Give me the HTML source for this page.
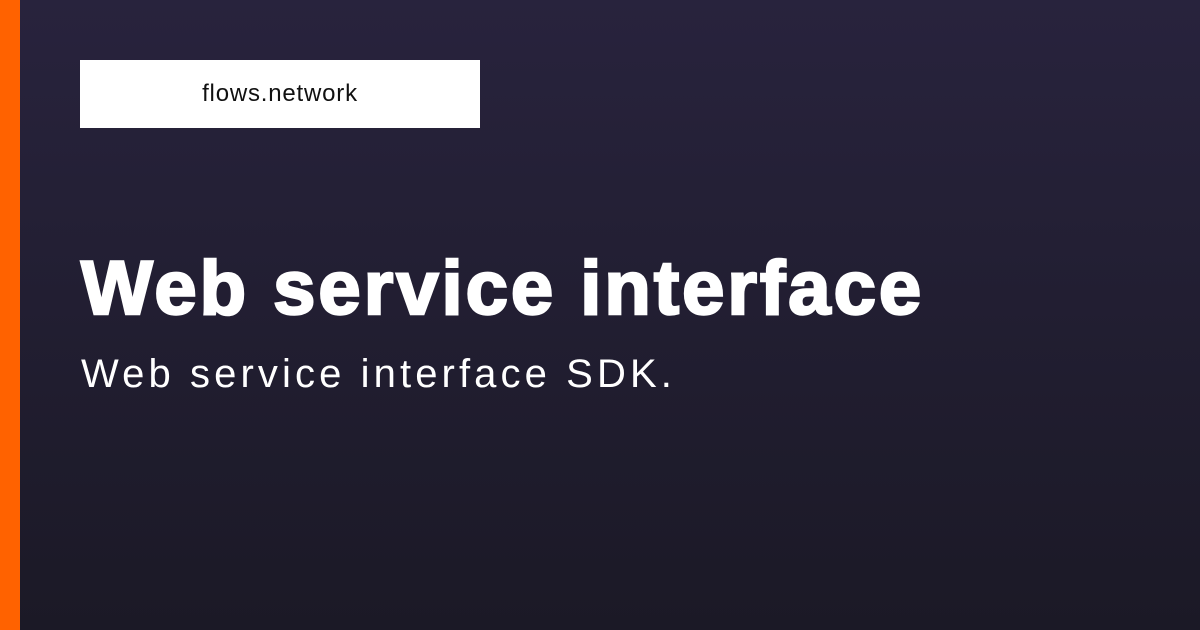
<!DOCTYPE html>
<html><head><style>
html,body{margin:0;padding:0}
body{width:1200px;height:630px;overflow:hidden;position:relative;background:linear-gradient(180deg,#28233d 0%,#1b1926 100%);font-family:"Liberation Sans",sans-serif}
.bar{position:absolute;left:0;top:0;width:20px;height:630px;background:#ff6200}
.box{position:absolute;left:80px;top:60px;width:400px;height:68px;background:#fff;text-align:center;line-height:68px;font-size:24px;letter-spacing:0.8px;color:#111}
.t{position:absolute;left:81px;top:245px;font-size:76px;font-weight:900;color:#fff;white-space:nowrap;letter-spacing:3px;-webkit-text-stroke:2.5px #fff}
.s{position:absolute;left:81px;top:352px;font-size:40px;color:#fff;white-space:nowrap;letter-spacing:4.1px}
</style></head><body>
<div class="bar"></div>
<div class="box">flows.network</div>
<div class="t">Web service interface</div>
<div class="s">Web service interface SDK.</div>
</body></html>
